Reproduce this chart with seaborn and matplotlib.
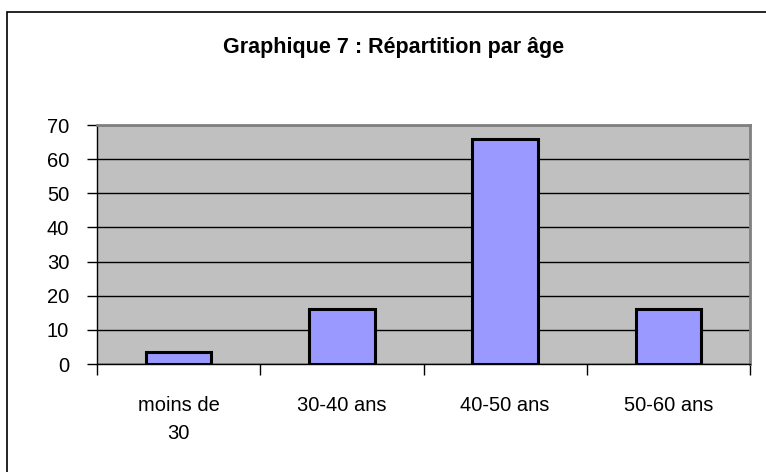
import matplotlib
matplotlib.use("Agg")
import matplotlib.pyplot as plt
import seaborn as sns
from matplotlib.patches import Rectangle

# Age distribution
categories = ["moins de\n30", "30-40 ans", "40-50 ans", "50-60 ans"]
values = [3.5, 16, 66, 16]
yticks = [0, 10, 20, 30, 40, 50, 60, 70]
title = "Graphique 7 : Répartition par âge"

sns.set_style("white", {"text.color": "black", "xtick.color": "black",
                        "ytick.color": "black", "xtick.bottom": True,
                        "ytick.left": True})
plt.rcParams["font.family"] = ["Liberation Sans", "DejaVu Sans"]

fig = plt.figure(figsize=(7.66, 4.72), dpi=100)
ax = fig.add_axes([97 / 766, 1 - 364 / 472, (750 - 97) / 766, (364 - 125) / 472])
ax.set_facecolor("#C0C0C0")

sns.barplot(x=list(range(len(categories))), y=values, color="#9999FF",
            saturation=1, width=0.4, edgecolor="black", linewidth=2.2, ax=ax,
            zorder=3)

ax.set_ylim(0, 70)
ax.set_xlim(-0.5, len(categories) - 0.5)
ax.set_yticks(yticks)
ax.set_yticklabels([str(t) for t in yticks], fontsize=14.5)
ax.yaxis.grid(True, color="black", linewidth=1, zorder=1)
ax.set_axisbelow(True)

# category boundaries as major ticks, labels on minor ticks
ax.set_xticks([i - 0.5 for i in range(len(categories) + 1)])
ax.set_xticklabels([])
ax.set_xticks(range(len(categories)), minor=True)
ax.set_xticklabels(categories, minor=True, fontsize=14.5, linespacing=1.6)
ax.tick_params(axis="x", which="major", bottom=True, length=8, width=1,
               color="black", direction="out")
ax.tick_params(axis="x", which="minor", bottom=True, length=0, pad=23)
ax.tick_params(axis="y", left=True, length=7, width=1, color="black",
               direction="out", pad=13)
ax.set_xlabel("")
ax.set_ylabel("")

for side in ["top", "right"]:
    ax.spines[side].set_color("#808080")
    ax.spines[side].set_linewidth(2)
for side in ["left", "bottom"]:
    ax.spines[side].set_color("black")
    ax.spines[side].set_linewidth(1)

fig.text(394 / 766, 1 - 47 / 472, title, ha="center", va="center",
         fontsize=15.5, fontweight="bold", color="black")

# outer chart border (cropped at right and bottom in the original)
fig.patches.append(Rectangle((7 / 766, -0.1), 1.2, 1.1 - 12 / 472,
                             transform=fig.transFigure, fill=False,
                             edgecolor="black", linewidth=1.2))

fig.savefig("out.png", dpi=100, facecolor="white")
